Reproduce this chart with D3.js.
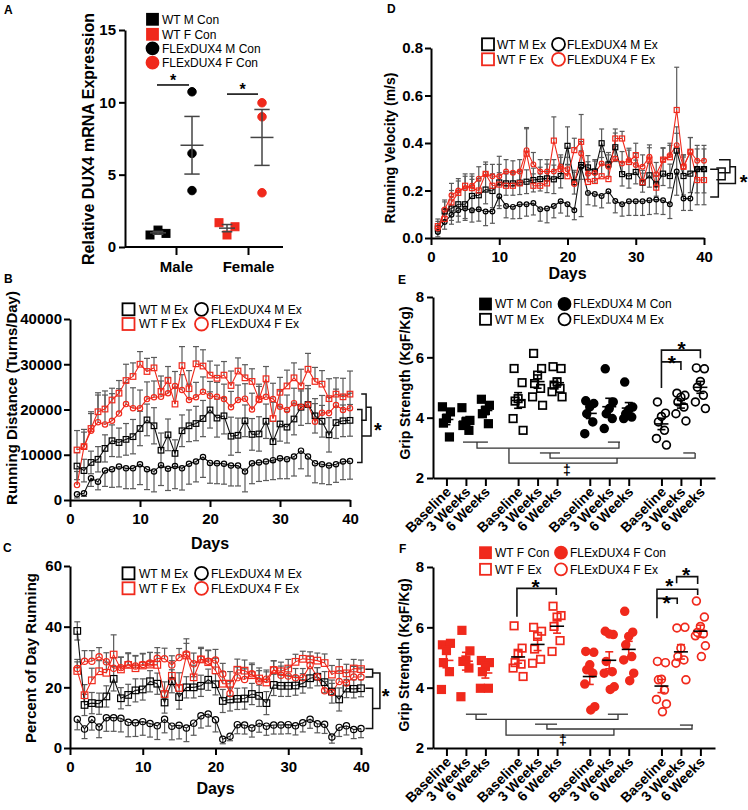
<!DOCTYPE html>
<html lang="en">
<head>
<meta charset="utf-8">
<script src="https://cdn.jsdelivr.net/npm/d3@7"></script>
<style>
  body { margin: 0; background: #fff; }
</style>
</head>
<body>
<div id="fig"></div>
<script>
'use strict';

// ---------- data ----------
// A: relative DUX4 mRNA expression
const aGroups = ["Male", "Female"];
const aTicks = [0, 5, 10, 15];
const aWtM = [0.83, 1.17, 0.94];
const aFlxM = [10.73, 6.47, 3.9];
const aWtF = [1.68, 0.83, 1.4];
const aFlxF = [9.97, 9.0, 3.75];

// B, C, D: daily wheel running, days 1..40
const days = d3.range(1, 41);
const dayTicks = [0, 10, 20, 30, 40];

const bTicks = [0, 10000, 20000, 30000, 40000];
const bWtMEx = [7500, 6500, 8300, 9000, 11400, 13100, 12700, 13400, 14000, 15800, 17700, 16400, 11000, 14400, 10300, 15300, 16400, 16900, 18000, 19900, 18100, 18600, 14100, 14300, 17500, 14500, 14600, 17400, 12900, 16800, 16100, 17900, 20500, 21100, 18600, 17400, 14400, 17100, 17500, 17600];
const bFlxMEx = [1250, 1500, 4800, 4050, 6500, 6800, 7400, 7000, 7000, 7900, 6800, 6300, 7700, 6900, 7500, 7000, 8000, 8500, 9500, 8200, 8100, 8000, 7600, 7600, 6300, 8100, 8300, 8500, 8800, 9200, 9000, 9600, 10900, 9600, 8100, 7900, 7600, 7900, 8500, 8600];
const bWtFEx = [11050, 11800, 15800, 19500, 20100, 22100, 23600, 26400, 27300, 30000, 28400, 29200, 24000, 26400, 21200, 29700, 24600, 30100, 29600, 27600, 26900, 27600, 25300, 28500, 27000, 26200, 22300, 26800, 18000, 23800, 25200, 27000, 25200, 28900, 26200, 25600, 22400, 23400, 22800, 23400];
const bFlxFEx = [3300, 11800, 15300, 17200, 16700, 17500, 19100, 21200, 20300, 20300, 22300, 22700, 22800, 23600, 25200, 24300, 22100, 22700, 23900, 23000, 22800, 22300, 20500, 22100, 22400, 20000, 22100, 22800, 22300, 20600, 19900, 21400, 20600, 21100, 17300, 19300, 19200, 21000, 19900, 20300];
const bErrWtMEx = [3000, 2500, 2500, 2800, 3000, 3500, 3200, 3500, 3800, 3800, 3500, 4000, 3800, 3500, 3000, 3500, 3500, 3800, 4000, 4000, 4200, 4000, 4200, 3800, 3500, 3500, 3800, 3800, 4500, 3800, 3500, 3500, 4000, 4200, 3800, 3500, 3800, 3500, 3500, 3500];
const bErrFlxMEx = [800, 700, 1800, 1800, 3500, 4000, 4500, 4500, 4500, 4500, 4500, 4500, 4500, 4800, 5000, 4800, 4500, 4500, 4500, 4500, 4500, 4500, 4500, 4500, 4500, 4500, 4200, 4200, 4300, 4500, 4300, 4300, 4000, 4300, 4300, 4300, 4200, 4000, 4000, 4000];
const bErrWtFEx = [4300, 3200, 3300, 4200, 4000, 2600, 2800, 3600, 3000, 2800, 2900, 2300, 3400, 3100, 3600, 4200, 4000, 3800, 3600, 3100, 2900, 3000, 3200, 2900, 2900, 2800, 2800, 2700, 3600, 3300, 3500, 3300, 3700, 3500, 3100, 3000, 4400, 3600, 4100, 5100];
const bErrFlxFEx = [3000, 3800, 4200, 6000, 6500, 6000, 5500, 4800, 4500, 4000, 3800, 3600, 3500, 3500, 3200, 3400, 3500, 3300, 3300, 3200, 3200, 3300, 3500, 3300, 3300, 3600, 3500, 3300, 3500, 3500, 3300, 3300, 3500, 3500, 4000, 3800, 3500, 3500, 3300, 3300];

const cTicks = [0, 20, 40, 60];
const cWtMEx = [38.6, 14.2, 14.8, 14.6, 17.0, 22.8, 16.4, 17.5, 19.0, 19.3, 22.0, 21.2, 15.0, 22.0, 16.8, 20.0, 20.0, 20.5, 22.5, 21.0, 15.5, 16.0, 16.2, 16.3, 17.8, 17.2, 14.8, 20.8, 20.5, 20.5, 20.6, 21.3, 23.0, 23.5, 21.7, 18.6, 16.0, 19.6, 19.5, 19.7];
const cFlxMEx = [9.5, 6.3, 9.4, 6.9, 10.0, 10.0, 9.8, 8.5, 8.3, 8.7, 8.1, 7.3, 9.5, 7.2, 7.5, 6.6, 8.2, 10.6, 11.2, 9.3, 2.9, 3.9, 7.7, 7.6, 6.6, 8.2, 7.2, 7.6, 7.6, 7.7, 7.3, 8.3, 9.5, 8.0, 7.8, 3.6, 6.8, 7.3, 6.1, 6.4];
const cWtFEx = [25.4, 17.4, 22.3, 25.3, 24.8, 30.8, 25.9, 27.4, 26.3, 27.2, 27.5, 27.4, 17.8, 23.8, 19.8, 30.5, 23.3, 29.2, 28.3, 25.6, 21.2, 21.2, 25.8, 25.5, 24.0, 22.9, 21.6, 25.7, 25.3, 26.2, 28.4, 29.4, 29.2, 28.8, 28.0, 24.2, 25.7, 24.6, 26.2, 26.0];
const cFlxFEx = [26.2, 28.6, 28.6, 30.1, 28.4, 26.3, 26.5, 27.6, 27.0, 27.5, 28.0, 29.6, 29.4, 27.4, 29.8, 31.0, 27.8, 29.3, 28.6, 29.0, 24.4, 18.0, 23.2, 22.6, 24.5, 22.0, 22.7, 25.8, 24.0, 23.7, 23.2, 23.2, 27.3, 23.5, 18.9, 18.3, 21.9, 21.4, 23.4, 23.4];
const cErrWtMEx = [3, 3.5, 3.5, 3.5, 3.5, 4, 3.5, 3.5, 3.8, 3.5, 3.5, 3.5, 3.5, 3.8, 4, 3.5, 3.5, 3.5, 3.5, 3.5, 3.8, 3.8, 3.5, 3.5, 3.5, 3.5, 3.8, 3.5, 3.5, 3.5, 3.2, 3.2, 3.2, 3, 3.5, 3.8, 3.8, 3, 3, 2.8];
const cErrFlxMEx = [3.5, 3.2, 3.5, 3.5, 4.5, 4.5, 4.5, 4.8, 4.5, 4.5, 4.5, 4.5, 4.5, 4.5, 4.5, 4.5, 4, 4, 4, 4, 1.5, 1.5, 3, 3, 3, 3, 3, 3, 3, 3, 3, 3, 3, 3, 3, 2, 3, 3, 3, 3];
const cErrWtFEx = [3, 3.5, 4, 3.5, 3.5, 6.5, 4, 4, 4, 4, 4, 4, 4, 5, 5, 4, 4, 4, 4, 4, 4, 4, 3.5, 3.5, 3.5, 3.5, 3.5, 3, 3, 3, 2.5, 2.5, 2.5, 2.5, 3, 3, 3.5, 3, 3, 3];
const cErrFlxFEx = [3, 3.5, 3.5, 3, 3, 3.5, 3.5, 3.5, 3.5, 3.5, 3.5, 3.5, 3.5, 3, 3, 5, 3.5, 3.5, 3.5, 3.5, 3.5, 4, 3.5, 3.5, 3.5, 3.5, 3, 3, 3, 3, 3, 3, 3, 3, 3, 3, 3.5, 3.5, 3.5, 3];

const dTicks = [0, 0.2, 0.4, 0.6, 0.8];
const dWtMEx = [0.04, 0.112, 0.124, 0.142, 0.142, 0.177, 0.18, 0.204, 0.198, 0.234, 0.23, 0.23, 0.233, 0.237, 0.244, 0.248, 0.251, 0.247, 0.261, 0.388, 0.235, 0.307, 0.297, 0.28, 0.399, 0.31, 0.382, 0.269, 0.26, 0.278, 0.233, 0.264, 0.226, 0.271, 0.261, 0.368, 0.261, 0.271, 0.29, 0.29];
const dFlxMEx = [0.025, 0.067, 0.098, 0.117, 0.124, 0.117, 0.121, 0.112, 0.112, 0.176, 0.135, 0.131, 0.142, 0.142, 0.147, 0.121, 0.124, 0.135, 0.155, 0.142, 0.117, 0.3, 0.19, 0.185, 0.177, 0.197, 0.156, 0.142, 0.155, 0.155, 0.155, 0.159, 0.162, 0.159, 0.142, 0.28, 0.166, 0.166, 0.29, 0.29];
const dWtFEx = [0.05, 0.08, 0.15, 0.19, 0.22, 0.21, 0.20, 0.27, 0.22, 0.225, 0.22, 0.22, 0.23, 0.355, 0.22, 0.22, 0.23, 0.41, 0.29, 0.26, 0.37, 0.405, 0.236, 0.24, 0.26, 0.248, 0.419, 0.419, 0.32, 0.349, 0.235, 0.33, 0.212, 0.33, 0.34, 0.539, 0.3, 0.363, 0.244, 0.244];
const dFlxFEx = [0.04, 0.12, 0.18, 0.2, 0.21, 0.22, 0.25, 0.27, 0.26, 0.26, 0.28, 0.275, 0.28, 0.37, 0.31, 0.28, 0.28, 0.28, 0.3, 0.29, 0.227, 0.356, 0.271, 0.274, 0.314, 0.3, 0.335, 0.314, 0.328, 0.307, 0.3, 0.342, 0.268, 0.328, 0.349, 0.391, 0.3, 0.363, 0.325, 0.325];
const dErrWtMEx = [0.02, 0.04, 0.05, 0.05, 0.06, 0.07, 0.06, 0.06, 0.07, 0.11, 0.05, 0.05, 0.05, 0.05, 0.05, 0.05, 0.06, 0.06, 0.05, 0.08, 0.05, 0.06, 0.05, 0.05, 0.06, 0.05, 0.06, 0.05, 0.05, 0.05, 0.04, 0.05, 0.05, 0.05, 0.05, 0.1, 0.08, 0.08, 0.1, 0.1];
const dErrFlxMEx = [0.02, 0.03, 0.04, 0.05, 0.05, 0.05, 0.05, 0.06, 0.05, 0.04, 0.05, 0.05, 0.06, 0.05, 0.05, 0.05, 0.06, 0.05, 0.05, 0.05, 0.04, 0.21, 0.05, 0.05, 0.05, 0.05, 0.05, 0.05, 0.06, 0.06, 0.06, 0.06, 0.06, 0.06, 0.06, 0.1, 0.05, 0.05, 0.15, 0.15];
const dErrWtFEx = [0.03, 0.04, 0.05, 0.05, 0.05, 0.05, 0.05, 0.04, 0.05, 0.05, 0.05, 0.05, 0.05, 0.11, 0.05, 0.05, 0.05, 0.1, 0.05, 0.05, 0.05, 0.115, 0.05, 0.05, 0.05, 0.05, 0.04, 0.03, 0.05, 0.05, 0.05, 0.05, 0.05, 0.05, 0.05, 0.18, 0.05, 0.06, 0.05, 0.05];
const dErrFlxFEx = [0.03, 0.04, 0.05, 0.05, 0.05, 0.05, 0.05, 0.05, 0.05, 0.05, 0.05, 0.05, 0.05, 0.09, 0.05, 0.05, 0.05, 0.05, 0.05, 0.05, 0.05, 0.05, 0.05, 0.05, 0.05, 0.05, 0.05, 0.05, 0.05, 0.05, 0.05, 0.05, 0.05, 0.05, 0.05, 0.05, 0.05, 0.06, 0.05, 0.05];

// E, F: grip strength, per timepoint [Baseline, 3 Weeks, 6 Weeks]
const gripTimes = ["Baseline", "3 Weeks", "6 Weeks"];
const gripTicks = [2, 4, 6, 8];
const eWtMCon = [[4.36, 4.19, 3.97, 3.82, 3.36], [4.33, 3.91, 3.86, 3.74, 3.58], [4.61, 4.41, 4.24, 4.13, 3.8]];
const eWtMEx = [[5.63, 5.16, 4.63, 4.55, 4.47, 3.97, 3.58], [6.13, 5.63, 5.41, 5.13, 4.97, 4.69, 4.41], [5.69, 5.63, 5.19, 5.08, 4.97, 4.86, 4.69]];
const eFlxMCon = [[4.56, 4.47, 4.36, 4.13, 3.86, 3.47], [5.62, 4.52, 4.3, 4.13, 3.97, 3.64], [5.18, 4.35, 4.26, 4.13, 4.02, 3.97]];
const eFlxMEx = [[4.52, 4.15, 4.04, 3.86, 3.58, 3.31, 3.09], [4.81, 4.74, 4.68, 4.52, 4.35, 4.13, 3.89], [5.65, 5.62, 5.2, 5.01, 4.74, 4.52, 4.3]];
const fWtFCon = [[5.42, 5.47, 5.23, 4.83, 4.53, 3.94], [5.9, 5.22, 4.92, 4.87, 4.65, 3.7], [4.9, 4.83, 4.7, 4.53, 3.98, 3.98]];
const fWtFEx = [[6.05, 5.31, 5.14, 4.83, 4.78, 4.65, 4.37], [6.0, 5.87, 5.7, 5.28, 4.94, 4.81], [6.7, 6.39, 6.34, 6.03, 5.56, 5.2]];
const fFlxFCon = [[5.2, 5.17, 4.76, 4.59, 4.48, 4.12, 3.37, 3.26], [5.87, 5.76, 5.78, 4.87, 4.53, 4.48, 4.03, 3.94], [6.53, 5.84, 5.7, 5.42, 5.03, 4.92, 4.48, 4.23]];
const fFlxFEx = [[4.87, 4.83, 4.28, 4.26, 3.92, 3.61, 3.46, 3.2], [5.98, 6.0, 5.31, 5.03, 4.92, 4.81, 4.26], [6.87, 6.34, 6.03, 5.83, 5.78, 5.72, 5.39, 5.03]];

// ---------- drawing ----------
const RED = "#f0291c";
const INK = "#000";
const BAR = "#5a5a5a";
const FONT = '"Liberation Sans", Arial, sans-serif';

const svg = d3.select("#fig").append("svg")
  .attr("width", 748).attr("height", 810)
  .style("font-family", FONT);

function styleAxis(sel, fs) {
  sel.attr("font-family", FONT).attr("font-size", fs).attr("font-weight", "bold");
  sel.select(".domain").attr("stroke", INK).attr("stroke-width", 2);
  sel.selectAll(".tick line").attr("stroke", INK).attr("stroke-width", 2);
  sel.selectAll(".tick text").attr("fill", INK);
}

const addText = (txt, x, y, fs, opts = {}) =>
  svg.append("text").attr("x", x).attr("y", y)
    .attr("font-size", fs)
    .attr("font-weight", opts.weight || "bold")
    .attr("text-anchor", opts.anchor || "start")
    .attr("fill", opts.color || INK)
    .text(txt);

const yLabel = (txt, x, cy, fs) =>
  svg.append("text").attr("transform", `translate(${x},${cy}) rotate(-90)`)
    .attr("text-anchor", "middle").attr("font-size", fs).attr("font-weight", "bold")
    .text(txt);

function mark(g, shape, cx, cy, size, color, filled, sw) {
  if (shape === "square") {
    g.append("rect").attr("x", cx - size / 2).attr("y", cy - size / 2)
      .attr("width", size).attr("height", size)
      .attr("fill", filled ? color : "none").attr("stroke", color).attr("stroke-width", sw);
  } else {
    g.append("circle").attr("cx", cx).attr("cy", cy).attr("r", size / 2)
      .attr("fill", filled ? color : "none").attr("stroke", color).attr("stroke-width", sw);
  }
}

function legendRow(shape, filled, color, cx, cy, label, tx, size) {
  mark(svg, shape, cx, cy, size, color, filled, 1.8);
  svg.append("text").attr("x", tx).attr("y", cy).attr("dy", "0.36em")
    .attr("font-size", 12).attr("fill", INK).text(label);
}

const star = (x, cy, fs) => addText("*", x, cy + fs * 0.58, fs, { anchor: "middle" });

// ---- panel A ----
addText("A", 4, 14, 12);
const xA = d3.scalePoint().domain(aGroups).range([176, 248]);
const yA = d3.scaleLinear().domain([0, 15]).range([247, 30]);
const gA = svg.append("g");
gA.append("g").attr("transform", "translate(125,0)")
  .call(d3.axisLeft(yA).tickValues(aTicks).tickSize(6).tickPadding(3).tickSizeOuter(0))
  .call(styleAxis, 15);
const axA = gA.append("g").attr("transform", "translate(0,247)")
  .call(d3.axisBottom(xA).tickSize(8).tickPadding(6).tickSizeOuter(0))
  .call(styleAxis, 15);
axA.select(".domain").remove();
gA.append("line").attr("x1", 125).attr("x2", 283).attr("y1", 247).attr("y2", 247)
  .attr("stroke", INK).attr("stroke-width", 2);
yLabel("Relative DUX4 mRNA Expression", 94, 139, 16);

const aSets = [
  { group: "Male", vals: aWtM, shape: "square", color: INK, off: -18, jit: [-8, 0, 8], w: 16 },
  { group: "Male", vals: aFlxM, shape: "circle", color: INK, off: 16, jit: [0, 0, 0], w: 23 },
  { group: "Female", vals: aWtF, shape: "square", color: RED, off: -21, jit: [-8, 0, 8], w: 16 },
  { group: "Female", vals: aFlxF, shape: "circle", color: RED, off: 14, jit: [0, 0, 0], w: 23 }
];
aSets.forEach(s => {
  const cx = xA(s.group) + s.off;
  const m = d3.mean(s.vals), sem = d3.deviation(s.vals) / Math.sqrt(s.vals.length);
  s.vals.forEach((v, i) => mark(gA, s.shape, cx + s.jit[i], yA(v), s.shape === "square" ? 8 : 8.5, s.color, true, 1));
  const ln = (x1, x2, y1, y2) => gA.append("line").attr("x1", x1).attr("x2", x2).attr("y1", y1).attr("y2", y2)
    .attr("stroke", "#444").attr("stroke-width", 1.5);
  ln(cx - s.w / 2, cx + s.w / 2, yA(m), yA(m));
  ln(cx, cx, yA(m - sem), yA(m + sem));
  ln(cx - s.w / 3, cx + s.w / 3, yA(m + sem), yA(m + sem));
  ln(cx - s.w / 3, cx + s.w / 3, yA(m - sem), yA(m - sem));
});
const aSig = [{ group: "Male", from: -19, to: 13, value: 11.2 }, { group: "Female", from: -21, to: 10, value: 10.57 }];
aSig.forEach(s => {
  const x0 = xA(s.group) + s.from, x1 = xA(s.group) + s.to;
  gA.append("line").attr("x1", x0).attr("x2", x1).attr("y1", yA(s.value)).attr("y2", yA(s.value))
    .attr("stroke", INK).attr("stroke-width", 1.5);
  star((x0 + x1) / 2, yA(s.value) - 8, 16);
});
legendRow("square", true, INK, 152.5, 19.3, "WT M Con", 162, 11);
legendRow("square", true, RED, 152.5, 34.3, "WT F Con", 162, 11);
legendRow("circle", true, INK, 152.5, 48.3, "FLExDUX4 M Con", 162, 12);
legendRow("circle", true, RED, 152.5, 62.7, "FLExDUX4 F Con", 162, 12);

// ---- time-course panels ----
function timePanel(p) {
  const g = svg.append("g");
  const [x0] = p.x.range();
  const [y0] = p.y.range();
  g.append("g").attr("transform", `translate(0,${y0})`)
    .call(d3.axisBottom(p.x).tickValues(dayTicks).tickSize(7).tickPadding(p.xPad).tickSizeOuter(0))
    .call(styleAxis, p.tickFs);
  g.append("g").attr("transform", `translate(${x0},0)`)
    .call(d3.axisLeft(p.y).tickValues(p.yTicks).tickFormat(p.fmt).tickSize(6).tickPadding(2).tickSizeOuter(0))
    .call(styleAxis, p.tickFs);

  const eg = g.append("g").attr("stroke", BAR).attr("stroke-width", 1.2);
  p.series.forEach(s => {
    s.vals.forEach((v, i) => {
      const e = s.err[i], cx = p.x(days[i]);
      const hi = s.dir === "down" ? v : v + e;
      const lo = s.dir === "up" ? v : Math.max(0, v - e);
      eg.append("line").attr("x1", cx).attr("x2", cx).attr("y1", p.y(hi)).attr("y2", p.y(lo));
      if (s.dir !== "down") eg.append("line").attr("x1", cx - p.cap / 2).attr("x2", cx + p.cap / 2).attr("y1", p.y(hi)).attr("y2", p.y(hi));
      if (s.dir !== "up") eg.append("line").attr("x1", cx - p.cap / 2).attr("x2", cx + p.cap / 2).attr("y1", p.y(lo)).attr("y2", p.y(lo));
    });
  });
  const line = d3.line().x((d, i) => p.x(days[i])).y(d => p.y(d));
  p.series.forEach(s => {
    g.append("path").attr("d", line(s.vals)).attr("fill", "none")
      .attr("stroke", s.color === RED ? RED : "#111").attr("stroke-width", 1.1);
  });
  p.series.forEach(s => {
    s.vals.forEach((v, i) => mark(g, s.shape, p.x(days[i]), p.y(v),
      s.shape === "square" ? p.msize : p.msize * 0.95, s.color, false, 1.2));
  });
  // significance brackets
  const bl = d3.line().x(d => p.x(d[0])).y(d => p.y(d[1]));
  p.brackets.forEach(b => {
    g.append("path").attr("d", bl(b)).attr("fill", "none").attr("stroke", "#111").attr("stroke-width", 1.5);
  });
  star(p.x(p.star[0]), p.y(p.star[1]), 20);
}

function legend4(sqx, cx, tsq, tc, y1, y2) {
  legendRow("square", false, INK, sqx, y1, "WT M Ex", tsq, 12);
  legendRow("square", false, RED, sqx, y2, "WT F Ex", tsq, 12);
  legendRow("circle", false, INK, cx, y1, "FLExDUX4 M Ex", tc, 13);
  legendRow("circle", false, RED, cx, y2, "FLExDUX4 F Ex", tc, 13);
}

// ---- panel B ----
addText("B", 4, 283, 12);
const xB = d3.scaleLinear().domain([0, 40]).range([70, 350]);
const yB = d3.scaleLinear().domain([0, 40000]).range([500, 319]);
timePanel({
  x: xB, y: yB, yTicks: bTicks, fmt: d3.format("d"), tickFs: 15, xPad: 6, cap: 6, msize: 5.6,
  series: [
    { vals: bWtMEx, err: bErrWtMEx, dir: "both", color: INK, shape: "square" },
    { vals: bFlxMEx, err: bErrFlxMEx, dir: "down", color: INK, shape: "circle" },
    { vals: bWtFEx, err: bErrWtFEx, dir: "up", color: RED, shape: "square" },
    { vals: bFlxFEx, err: bErrFlxFEx, dir: "up", color: RED, shape: "circle" }
  ],
  brackets: [
    [[41.6, 23400], [42.3, 23400], [42.3, 17600], [41.6, 17600]],
    [[41.0, 20000], [41.7, 20000], [41.7, 8300], [41.0, 8300]],
    [[42.3, 20500], [43.0, 20500], [43.0, 14150], [41.7, 14150]]
  ],
  star: [44.0, 16500]
});
yLabel("Running Distance (Turns/Day)", 17, 398, 15);
addText("Days", xB(20), 549, 16, { anchor: "middle" });
legend4(128.5, 201.5, 139, 211, 309.3, 324);

// ---- panel C ----
addText("C", 3, 552, 12);
const xC = d3.scaleLinear().domain([0, 40]).range([70, 361]);
const yC = d3.scaleLinear().domain([0, 60]).range([748, 566]);
timePanel({
  x: xC, y: yC, yTicks: cTicks, fmt: d3.format("d"), tickFs: 15, xPad: 6, cap: 6, msize: 6.6,
  series: [
    { vals: cWtMEx, err: cErrWtMEx, dir: "both", color: INK, shape: "square" },
    { vals: cFlxMEx, err: cErrFlxMEx, dir: "down", color: INK, shape: "circle" },
    { vals: cWtFEx, err: cErrWtFEx, dir: "up", color: RED, shape: "square" },
    { vals: cFlxFEx, err: cErrFlxFEx, dir: "up", color: RED, shape: "circle" }
  ],
  brackets: [
    [[40.6, 26.0], [41.6, 26.0], [41.6, 23.4], [40.6, 23.4]],
    [[40.6, 19.7], [41.6, 19.7], [41.6, 6.4], [40.6, 6.4]],
    [[41.6, 24.7], [42.6, 24.7], [42.6, 13.0], [41.6, 13.0]]
  ],
  star: [43.4, 18.5]
});
yLabel("Percent of Day Running", 36, 658, 15);
addText("Days", xC(20), 794, 16, { anchor: "middle" });
legend4(128.5, 201.5, 139, 211, 573.3, 588.3);

// ---- panel D ----
addText("D", 387, 13, 12);
const xD = d3.scaleLinear().domain([0, 40]).range([431, 704]);
const yD = d3.scaleLinear().domain([0, 0.8]).range([238, 48]);
timePanel({
  x: xD, y: yD, yTicks: dTicks, fmt: d3.format(".1f"), tickFs: 15, xPad: 6, cap: 5, msize: 5,
  series: [
    { vals: dWtMEx, err: dErrWtMEx, dir: "both", color: INK, shape: "square" },
    { vals: dFlxMEx, err: dErrFlxMEx, dir: "down", color: INK, shape: "circle" },
    { vals: dWtFEx, err: dErrWtFEx, dir: "up", color: RED, shape: "square" },
    { vals: dFlxFEx, err: dErrFlxFEx, dir: "up", color: RED, shape: "circle" }
  ],
  brackets: [
    [[42.2, 0.33], [43.8, 0.33], [43.8, 0.275], [42.2, 0.275]],
    [[41.8, 0.295], [43.1, 0.295], [43.1, 0.245], [41.8, 0.245]],
    [[40.9, 0.29], [42.1, 0.29], [42.1, 0.173], [40.9, 0.173]],
    [[43.8, 0.3], [44.6, 0.3], [44.6, 0.23], [42.1, 0.23]]
  ],
  star: [45.8, 0.255]
});
yLabel("Running Velocity (m/s)", 395, 148, 14);
addText("Days", xD(20), 279, 16, { anchor: "middle" });
legend4(488, 558.5, 497, 567, 44.3, 59.3);

// ---- panels E, F ----
const slotOf = (g, t) => g * 3.68 + t;
const slots = d3.range(12).map(i => slotOf(Math.floor(i / 3), i % 3));
const xG = d3.scaleLinear().domain([-0.69, 13.79]).range([433, 715]);
const jit = [-4, 4, 0, -3, 3, -5, 5, 1];

function gripPanel(p) {
  const g = svg.append("g");
  const [y0] = p.y.range();
  const ax = g.append("g").attr("transform", `translate(0,${y0})`)
    .call(d3.axisBottom(xG).tickValues(slots).tickFormat((d, i) => gripTimes[i % 3]).tickSize(8).tickSizeOuter(0))
    .call(styleAxis, 14);
  ax.selectAll(".tick text").attr("x", -7).attr("y", 14).attr("dy", 0)
    .attr("transform", "rotate(-45)").attr("text-anchor", "end");
  g.append("g").attr("transform", "translate(433,0)")
    .call(d3.axisLeft(p.y).tickValues(gripTicks).tickFormat(d3.format("d")).tickSize(6).tickPadding(3).tickSizeOuter(0))
    .call(styleAxis, 15);

  p.groups.forEach((grp, gi) => {
    grp.vals.forEach((vals, t) => {
      const cx = xG(slotOf(gi, t));
      vals.forEach((v, i) => mark(g, grp.shape, cx + jit[i], p.y(v), grp.shape === "square" ? 7.5 : 7.8, p.color, grp.filled, 1.7));
      const m = d3.mean(vals), sem = d3.deviation(vals) / Math.sqrt(vals.length);
      const ln = (x1, x2, y1, y2, c) => g.append("line").attr("x1", x1).attr("x2", x2).attr("y1", y1).attr("y2", y2)
        .attr("stroke", c).attr("stroke-width", 1.6);
      ln(cx, cx, p.y(m - sem), p.y(m + sem), p.semColor);
      ln(cx - 4, cx + 4, p.y(m + sem), p.y(m + sem), p.semColor);
      ln(cx - 4, cx + 4, p.y(m - sem), p.y(m - sem), p.semColor);
      ln(cx - 7, cx + 7, p.y(m), p.y(m), gi === 0 ? p.color : INK);
    });
  });
  const bl = d3.line().x(d => xG(d[0])).y(d => p.y(d[1]));
  p.tree.forEach(b => g.append("path").attr("d", bl(b)).attr("fill", "none").attr("stroke", "#333").attr("stroke-width", 1.3));
  p.sig.forEach(b => g.append("path").attr("d", bl(b)).attr("fill", "none").attr("stroke", "#111").attr("stroke-width", 1.6));
  p.stars.forEach(s => star(xG(s[0]), p.y(s[1]), 21));
  addText("\u2021", xG(p.dag[0]), p.y(p.dag[1]) + 5, 14, { anchor: "middle" });
}

addText("E", 398, 284, 12);
const yE = d3.scaleLinear().domain([2, 8]).range([478, 297]);
gripPanel({
  y: yE, color: INK, semColor: INK,
  groups: [
    { vals: eWtMCon, shape: "square", filled: true },
    { vals: eWtMEx, shape: "square", filled: false },
    { vals: eFlxMCon, shape: "circle", filled: true },
    { vals: eFlxMEx, shape: "circle", filled: false }
  ],
  tree: [
    [[0.85, 3.19], [2.13, 3.19]],
    [[1.57, 3.19], [1.57, 2.99], [8.86, 2.99], [8.86, 3.19]],
    [[8.29, 3.19], [8.91, 3.19]],
    [[3.21, 2.99], [3.21, 2.49], [8.76, 2.49], [8.76, 2.66]],
    [[4.8, 2.83], [5.83, 2.83]],
    [[5.32, 2.83], [5.32, 2.66], [12.77, 2.66], [12.77, 2.83]],
    [[12.16, 2.83], [12.77, 2.83]]
  ],
  sig: [
    [[11.04, 4.98], [11.04, 6.24], [13.04, 6.24], [13.04, 5.97]],
    [[11.04, 5.85], [12.04, 5.85], [12.04, 5.58]]
  ],
  stars: [[11.57, 6.0], [12.08, 6.44]],
  dag: [6.19, 2.26]
});
yLabel("Grip Strength (KgF/Kg)", 410, 383, 14);
legendRow("square", true, INK, 485.5, 304, "WT M Con", 495, 11);
legendRow("square", false, INK, 485.5, 319.3, "WT M Ex", 495, 11);
legendRow("circle", true, INK, 564.5, 304, "FLExDUX4 M Con", 573, 12);
legendRow("circle", false, INK, 564.5, 319.3, "FLExDUX4 M Ex", 573, 12);

addText("F", 399, 553, 12);
const yF = d3.scaleLinear().domain([2, 8]).range([748, 567]);
gripPanel({
  y: yF, color: RED, semColor: RED,
  groups: [
    { vals: fWtFCon, shape: "square", filled: true },
    { vals: fWtFEx, shape: "square", filled: false },
    { vals: fFlxFCon, shape: "circle", filled: true },
    { vals: fFlxFEx, shape: "circle", filled: false }
  ],
  tree: [
    [[1.0, 3.12], [2.08, 3.12]],
    [[1.52, 3.12], [1.52, 2.95], [8.81, 2.95], [8.81, 3.12]],
    [[8.29, 3.12], [9.32, 3.12]],
    [[3.06, 2.95], [3.06, 2.43], [8.6, 2.43], [8.6, 2.63]],
    [[4.55, 2.79], [5.68, 2.79]],
    [[5.16, 2.79], [5.16, 2.63], [12.61, 2.63], [12.61, 2.76]],
    [[11.99, 2.76], [12.66, 2.76]]
  ],
  sig: [
    [[3.62, 6.35], [3.62, 7.29], [5.64, 7.29], [5.64, 7.07]],
    [[10.81, 6.3], [10.81, 7.26], [12.9, 7.26], [12.9, 7.07]],
    [[10.81, 6.96], [11.85, 6.96], [11.85, 6.77]],
    [[11.82, 7.46], [11.82, 7.68], [12.9, 7.68], [12.9, 7.44]]
  ],
  stars: [[4.58, 7.51], [11.3, 6.98], [11.45, 7.53], [12.3, 7.9]],
  dag: [5.98, 2.27]
});
yLabel("Grip Strength (KgF/Kg)", 409, 655, 14);
legendRow("square", true, RED, 485.5, 552.7, "WT F Con", 495, 11);
legendRow("square", false, RED, 485.5, 569.3, "WT F Ex", 495, 11);
legendRow("circle", true, RED, 561, 552.7, "FLExDUX4 F Con", 570, 12);
legendRow("circle", false, RED, 561, 569.3, "FLExDUX4 F Ex", 570, 12);
</script>
</body>
</html>
